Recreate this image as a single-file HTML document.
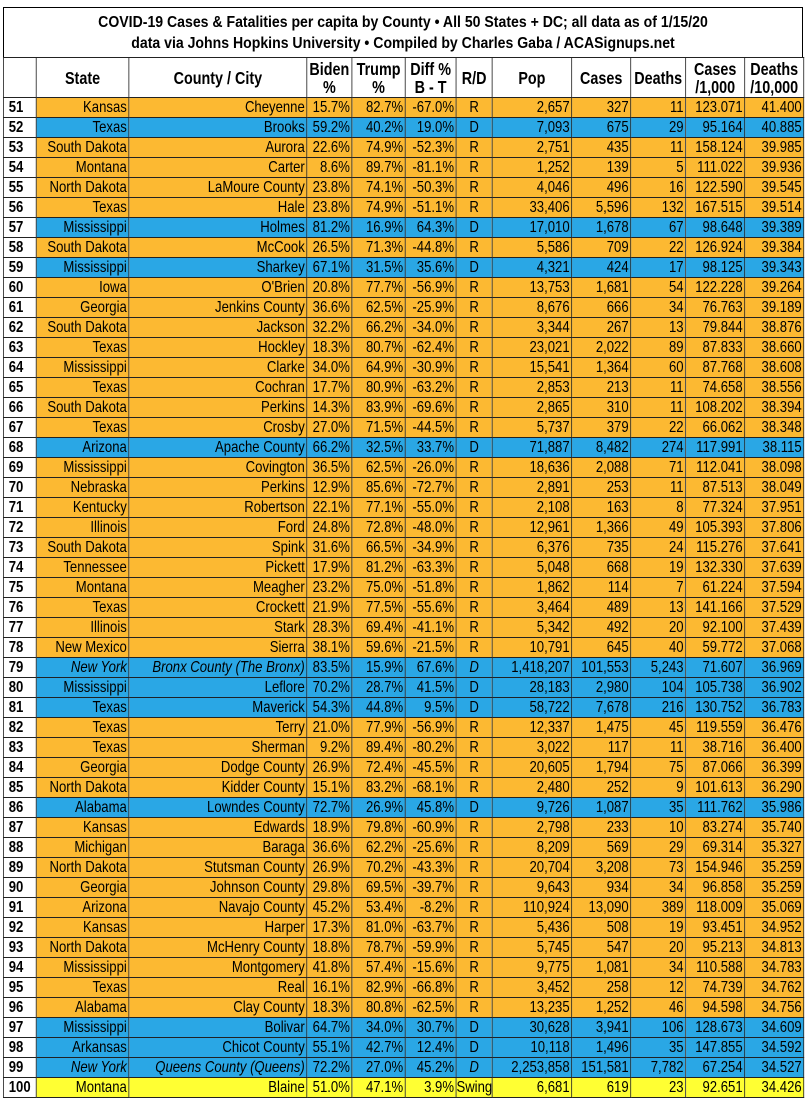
<!DOCTYPE html>
<html><head><meta charset="utf-8"><style>
body{margin:0;background:#fff;width:807px;height:1101px;overflow:hidden;font-family:"Liberation Sans Narrow","Liberation Sans",sans-serif;}
.title{position:absolute;left:3px;top:7px;width:800px;height:51px;border:1px solid #000;box-sizing:border-box;}
.title div{text-align:center;font-weight:bold;font-size:16px;line-height:21px;padding-top:4px;transform:scaleX(0.88);transform-origin:center}
table{position:absolute;left:3px;top:57px;width:976px;border-collapse:collapse;table-layout:fixed;font-size:16px;transform:scaleX(0.82);transform-origin:0 0}
td,th{border:1px solid #222;padding:0 2px;height:19px;line-height:19px;white-space:nowrap;overflow:hidden;text-align:right}
th{height:39px;line-height:18px;text-align:center;font-weight:bold;background:#fff;font-size:17.5px;padding:0}
td.n{background:#fff;font-weight:bold;text-align:left;padding-left:6px}
td.c{text-align:center;padding:0}
tr.R td{background:#fcb932}tr.D td{background:#2aa7e5}tr.S td{background:#ffff33}
tr td.n{background:#fff}
.i{font-style:italic}
</style></head><body>
<div class="title"><div>COVID-19 Cases &amp; Fatalities per capita by County • All 50 States + DC; all data as of 1/15/20<br>data via Johns Hopkins University • Compiled by Charles Gaba / ACASignups.net</div></div>
<table>
<colgroup><col style="width:40px"><col style="width:113px"><col style="width:217px"><col style="width:55px"><col style="width:65px"><col style="width:62px"><col style="width:44px"><col style="width:97px"><col style="width:72px"><col style="width:67px"><col style="width:72px"><col style="width:72px"></colgroup>
<tr><th></th><th>State</th><th>County / City</th><th>Biden<br>%</th><th>Trump<br>%</th><th>Diff %<br>B - T</th><th>R/D</th><th>Pop</th><th>Cases</th><th>Deaths</th><th>Cases<br>/1,000</th><th>Deaths<br>/10,000</th></tr>
<tbody id="b"></tbody></table>
<script>
const d=`51|Kansas|Cheyenne|15.7%|82.7%|-67.0%|R|2,657|327|11|123.071|41.400
52|Texas|Brooks|59.2%|40.2%|19.0%|D|7,093|675|29|95.164|40.885
53|South Dakota|Aurora|22.6%|74.9%|-52.3%|R|2,751|435|11|158.124|39.985
54|Montana|Carter|8.6%|89.7%|-81.1%|R|1,252|139|5|111.022|39.936
55|North Dakota|LaMoure County|23.8%|74.1%|-50.3%|R|4,046|496|16|122.590|39.545
56|Texas|Hale|23.8%|74.9%|-51.1%|R|33,406|5,596|132|167.515|39.514
57|Mississippi|Holmes|81.2%|16.9%|64.3%|D|17,010|1,678|67|98.648|39.389
58|South Dakota|McCook|26.5%|71.3%|-44.8%|R|5,586|709|22|126.924|39.384
59|Mississippi|Sharkey|67.1%|31.5%|35.6%|D|4,321|424|17|98.125|39.343
60|Iowa|O'Brien|20.8%|77.7%|-56.9%|R|13,753|1,681|54|122.228|39.264
61|Georgia|Jenkins County|36.6%|62.5%|-25.9%|R|8,676|666|34|76.763|39.189
62|South Dakota|Jackson|32.2%|66.2%|-34.0%|R|3,344|267|13|79.844|38.876
63|Texas|Hockley|18.3%|80.7%|-62.4%|R|23,021|2,022|89|87.833|38.660
64|Mississippi|Clarke|34.0%|64.9%|-30.9%|R|15,541|1,364|60|87.768|38.608
65|Texas|Cochran|17.7%|80.9%|-63.2%|R|2,853|213|11|74.658|38.556
66|South Dakota|Perkins|14.3%|83.9%|-69.6%|R|2,865|310|11|108.202|38.394
67|Texas|Crosby|27.0%|71.5%|-44.5%|R|5,737|379|22|66.062|38.348
68|Arizona|Apache County|66.2%|32.5%|33.7%|D|71,887|8,482|274|117.991|38.115
69|Mississippi|Covington|36.5%|62.5%|-26.0%|R|18,636|2,088|71|112.041|38.098
70|Nebraska|Perkins|12.9%|85.6%|-72.7%|R|2,891|253|11|87.513|38.049
71|Kentucky|Robertson|22.1%|77.1%|-55.0%|R|2,108|163|8|77.324|37.951
72|Illinois|Ford|24.8%|72.8%|-48.0%|R|12,961|1,366|49|105.393|37.806
73|South Dakota|Spink|31.6%|66.5%|-34.9%|R|6,376|735|24|115.276|37.641
74|Tennessee|Pickett|17.9%|81.2%|-63.3%|R|5,048|668|19|132.330|37.639
75|Montana|Meagher|23.2%|75.0%|-51.8%|R|1,862|114|7|61.224|37.594
76|Texas|Crockett|21.9%|77.5%|-55.6%|R|3,464|489|13|141.166|37.529
77|Illinois|Stark|28.3%|69.4%|-41.1%|R|5,342|492|20|92.100|37.439
78|New Mexico|Sierra|38.1%|59.6%|-21.5%|R|10,791|645|40|59.772|37.068
79|New York|Bronx County (The Bronx)|83.5%|15.9%|67.6%|D|1,418,207|101,553|5,243|71.607|36.969|i
80|Mississippi|Leflore|70.2%|28.7%|41.5%|D|28,183|2,980|104|105.738|36.902
81|Texas|Maverick|54.3%|44.8%|9.5%|D|58,722|7,678|216|130.752|36.783
82|Texas|Terry|21.0%|77.9%|-56.9%|R|12,337|1,475|45|119.559|36.476
83|Texas|Sherman|9.2%|89.4%|-80.2%|R|3,022|117|11|38.716|36.400
84|Georgia|Dodge County|26.9%|72.4%|-45.5%|R|20,605|1,794|75|87.066|36.399
85|North Dakota|Kidder County|15.1%|83.2%|-68.1%|R|2,480|252|9|101.613|36.290
86|Alabama|Lowndes County|72.7%|26.9%|45.8%|D|9,726|1,087|35|111.762|35.986
87|Kansas|Edwards|18.9%|79.8%|-60.9%|R|2,798|233|10|83.274|35.740
88|Michigan|Baraga|36.6%|62.2%|-25.6%|R|8,209|569|29|69.314|35.327
89|North Dakota|Stutsman County|26.9%|70.2%|-43.3%|R|20,704|3,208|73|154.946|35.259
90|Georgia|Johnson County|29.8%|69.5%|-39.7%|R|9,643|934|34|96.858|35.259
91|Arizona|Navajo County|45.2%|53.4%|-8.2%|R|110,924|13,090|389|118.009|35.069
92|Kansas|Harper|17.3%|81.0%|-63.7%|R|5,436|508|19|93.451|34.952
93|North Dakota|McHenry County|18.8%|78.7%|-59.9%|R|5,745|547|20|95.213|34.813
94|Mississippi|Montgomery|41.8%|57.4%|-15.6%|R|9,775|1,081|34|110.588|34.783
95|Texas|Real|16.1%|82.9%|-66.8%|R|3,452|258|12|74.739|34.762
96|Alabama|Clay County|18.3%|80.8%|-62.5%|R|13,235|1,252|46|94.598|34.756
97|Mississippi|Bolivar|64.7%|34.0%|30.7%|D|30,628|3,941|106|128.673|34.609
98|Arkansas|Chicot County|55.1%|42.7%|12.4%|D|10,118|1,496|35|147.855|34.592
99|New York|Queens County (Queens)|72.2%|27.0%|45.2%|D|2,253,858|151,581|7,782|67.254|34.527|i
100|Montana|Blaine|51.0%|47.1%|3.9%|Swing|6,681|619|23|92.651|34.426`;
let h='';
for(const l of d.split('\n')){const f=l.split('|');const it=f[12]?' i':'';const cls=f[6]=='Swing'?'S':f[6];
h+=`<tr class="${cls}"><td class="n">${f[0]}</td><td class="${it}">${f[1]}</td><td class="${it}">${f[2]}</td><td>${f[3]}</td><td>${f[4]}</td><td>${f[5]}</td><td class="c${it}">${f[6]}</td><td>${f[7]}</td><td>${f[8]}</td><td>${f[9]}</td><td>${f[10]}</td><td>${f[11]}</td></tr>`;}
document.getElementById('b').innerHTML=h;
</script>
</body></html>
